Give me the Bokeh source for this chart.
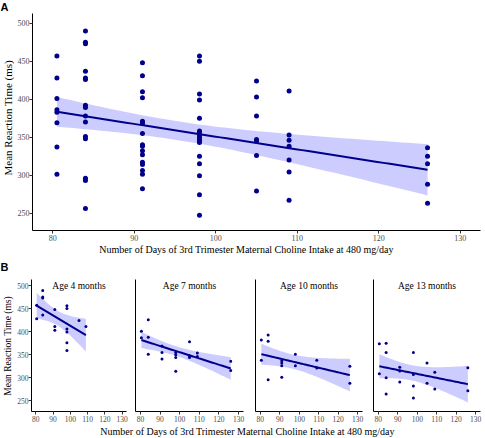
import numpy as np
from bokeh.plotting import figure
from bokeh.layouts import column, row
from bokeh.models import Range1d, FixedTicker, Label
from bokeh.embed import file_html
from bokeh.resources import INLINE

SERIF = "Liberation Serif"
SANS = "Liberation Sans"
DOT = "#00008B"
BAND = "#0000FF"

# ---------------- Panel A data (pooled) ----------------
day_levels = [80.5, 84, 91, 98, 105, 109, 126]
a_rt_80 = [457, 428, 401, 386, 383, 369, 337, 301]
a_rt_84 = [490, 475, 473, 437, 428, 426, 392, 389, 378, 370, 351, 348, 296, 293, 256]
a_rt_91 = [448, 431, 410, 402, 371, 368, 355, 340, 338, 332, 327, 317, 314, 306, 301, 282]
a_rt_98 = [457, 450, 407, 399, 375, 358, 356, 352, 349, 346, 343, 325, 315, 299, 274, 247]
a_rt_105 = [424, 403, 378, 347, 345, 326, 279]
a_rt_109 = [411, 353, 346, 338, 320, 304, 267]
a_rt_126 = [336, 325, 315, 288, 263]

# ---------------- Panel B data (by age) ----------------
age4_days = [80.5, 80.5, 84, 84, 84, 84, 91, 91, 91, 98, 98, 98, 98, 98, 98, 105, 109]
age4_rt = [457, 428, 489, 475, 473, 436, 448, 411, 403, 456, 450, 406, 399, 376, 359, 424, 411]

age7_days = [80.5, 80.5, 84, 84, 84, 91, 91, 91, 98, 98, 98, 98, 105, 105, 105, 109, 109, 126, 126]
age7_rt = [401, 387, 426, 388, 351, 369, 355, 341, 355, 350, 344, 314, 378, 348, 344, 354, 346, 336, 316]

age10_days = [80.5, 80.5, 84, 84, 84, 91, 91, 91, 91, 98, 98, 109, 109, 126, 126]
age10_rt = [382, 338, 393, 379, 296, 337, 332, 326, 301, 351, 326, 338, 321, 325, 288]

age13_days = [80.5, 80.5, 84, 84, 84, 84, 91, 91, 91, 98, 98, 98, 98, 105, 105, 109, 109, 126, 126]
age13_rt = [374, 309, 375, 355, 300, 265, 323, 315, 291, 355, 307, 282, 256, 332, 288, 312, 276, 322, 272]

panel_titles = ["Age 4 months", "Age 7 months", "Age 10 months", "Age 13 months"]
x_ticks = [80, 90, 100, 110, 120, 130]
y_ticks = [250, 300, 350, 400, 450, 500]
X_LIM = (77.5, 132.5)
Y_LIM = (227, 513)
x_title = "Number of Days of 3rd Trimester Maternal Choline Intake at 480 mg/day"
y_title = "Mean Reaction Time (ms)"


def t975(dof):
    z = 1.959964
    return (z + (z**3 + z) / (4 * dof)
            + (5 * z**5 + 16 * z**3 + 3 * z) / (96 * dof**2)
            + (3 * z**7 + 19 * z**5 + 17 * z**3 - 15 * z) / (384 * dof**3))


def fit_band(x, y, n=60):
    x = np.asarray(x, float)
    y = np.asarray(y, float)
    b, a = np.polyfit(x, y, 1)
    xs = np.linspace(x.min(), x.max(), n)
    yhat = a + b * xs
    res = y - (a + b * x)
    dof = len(x) - 2
    s = np.sqrt(np.sum(res**2) / dof)
    sxx = np.sum((x - x.mean())**2)
    se = s * np.sqrt(1.0 / len(x) + (xs - x.mean())**2 / sxx)
    t = t975(dof)
    return xs, yhat, yhat - t * se, yhat + t * se


def style(p, tick_px, show_y=True):
    p.grid.visible = False
    p.outline_line_color = None
    p.background_fill_color = "white"
    p.border_fill_color = "white"
    for ax in list(p.xaxis) + list(p.yaxis):
        ax.axis_line_color = "black"
        ax.axis_line_width = 1
        ax.major_tick_line_color = "#333333"
        ax.major_tick_out = 3
        ax.major_tick_in = 0
        ax.minor_tick_line_color = None
        ax.major_label_text_font = SERIF
        ax.major_label_text_font_size = tick_px
        ax.major_label_text_color = "#4D4D4D"
        ax.major_label_standoff = 1
    p.yaxis.major_label_standoff = 0
    p.xaxis.ticker = FixedTicker(ticks=x_ticks)
    if show_y:
        p.yaxis.ticker = FixedTicker(ticks=y_ticks)
    else:
        p.yaxis.ticker = FixedTicker(ticks=[])
        p.yaxis.major_label_text_font_size = "0px"
        p.yaxis.major_tick_out = 0


def draw(p, xd, yd, dot_size, lw):
    xs, yh, lo, hi = fit_band(xd, yd)
    p.varea(x=xs, y1=lo, y2=hi, fill_color=BAND, fill_alpha=0.2)
    p.scatter(xd, yd, size=dot_size, color=DOT, line_color=None)
    p.line(xs, yh, line_color=DOT, line_width=lw)


def text_fig(w, h):
    f = figure(width=w, height=h, x_range=Range1d(0, w), y_range=Range1d(0, h),
               x_axis_type=None, y_axis_type=None,
               output_backend="svg", toolbar_location=None,
               min_border_left=0, min_border_right=0, min_border_top=0, min_border_bottom=0)
    f.grid.visible = False
    f.outline_line_color = None
    f.background_fill_color = "white"
    f.border_fill_color = "white"
    return f


def letter(f, text, y):
    f.add_layout(Label(x=0, y=y, text=text, text_font=SANS, text_font_style="bold",
                       text_font_size="11px", text_baseline="middle", text_align="left",
                       text_color="black"))


W = 484
LAB_W = 14

# ---------------- top strip with panel letter A ----------------
TOP_H = 13
topA = text_fig(W, TOP_H)
letter(topA, "A", TOP_H / 2)

# ---------------- Panel A ----------------
A_H = 230
a_lists = [a_rt_80, a_rt_84, a_rt_91, a_rt_98, a_rt_105, a_rt_109, a_rt_126]
a_x = [d for d, lst in zip(day_levels, a_lists) for _ in lst]
a_y = [v for lst in a_lists for v in lst]

pA = figure(width=W - LAB_W, height=A_H, x_range=Range1d(*X_LIM), y_range=Range1d(*Y_LIM),
            output_backend="svg", toolbar_location=None,
            min_border_left=16, min_border_right=4, min_border_top=0, min_border_bottom=12)
style(pA, "8px")
draw(pA, a_x, a_y, 5, 2)

labA = text_fig(LAB_W, A_H)
labA.add_layout(Label(x=7.5, y=A_H - 110.5, text=y_title, angle=np.pi / 2, text_font=SERIF,
                      text_font_size="11px", text_baseline="middle", text_align="center",
                      text_color="black"))

# ---------------- strip: A x-title + panel letter B ----------------
MID_H = 30
mid = text_fig(W, MID_H)
mid.add_layout(Label(x=246, y=MID_H - 6, text=x_title, text_font=SERIF, text_font_size="10px",
                     text_baseline="middle", text_align="center", text_color="black"))
letter(mid, "B", MID_H - 23.5)

# ---------------- Panel B ----------------
B_H = 151
b_data = [(age4_days, age4_rt), (age7_days, age7_rt), (age10_days, age10_rt), (age13_days, age13_rt)]
b_widths = [W - LAB_W - 356, 120, 118, 118]
b_left = [16, 7, 7, 7]
b_right = [2, 5, 4, 4]
b_figs = []
for i, ((xd, yd), title) in enumerate(zip(b_data, panel_titles)):
    p = figure(width=b_widths[i], height=B_H, x_range=Range1d(*X_LIM), y_range=Range1d(*Y_LIM),
               output_backend="svg", toolbar_location=None,
               min_border_left=b_left[i], min_border_right=b_right[i],
               min_border_top=6, min_border_bottom=12)
    style(p, "7.5px", show_y=(i == 0))
    draw(p, xd, yd, 3, 2)
    p.add_layout(Label(x=(X_LIM[0] + X_LIM[1]) / 2, y=Y_LIM[1], y_offset=-6, text=title,
                       text_font=SERIF, text_font_size="9.5px", text_baseline="middle",
                       text_align="center", text_color="black"))
    b_figs.append(p)

labB = text_fig(LAB_W, B_H)
labB.add_layout(Label(x=7.5, y=B_H - 76, text=y_title, angle=np.pi / 2, text_font=SERIF,
                      text_font_size="9.5px", text_baseline="middle", text_align="center",
                      text_color="black"))

titleB = text_fig(W, 13)
titleB.add_layout(Label(x=247, y=6.5, text=x_title, text_font=SERIF, text_font_size="10px",
                        text_baseline="middle", text_align="center", text_color="black"))

layout = column(topA, row(labA, pA, spacing=0), mid,
                row(labB, *b_figs, spacing=0), titleB, spacing=0)
open("out.html", "w").write(file_html(layout, INLINE))
